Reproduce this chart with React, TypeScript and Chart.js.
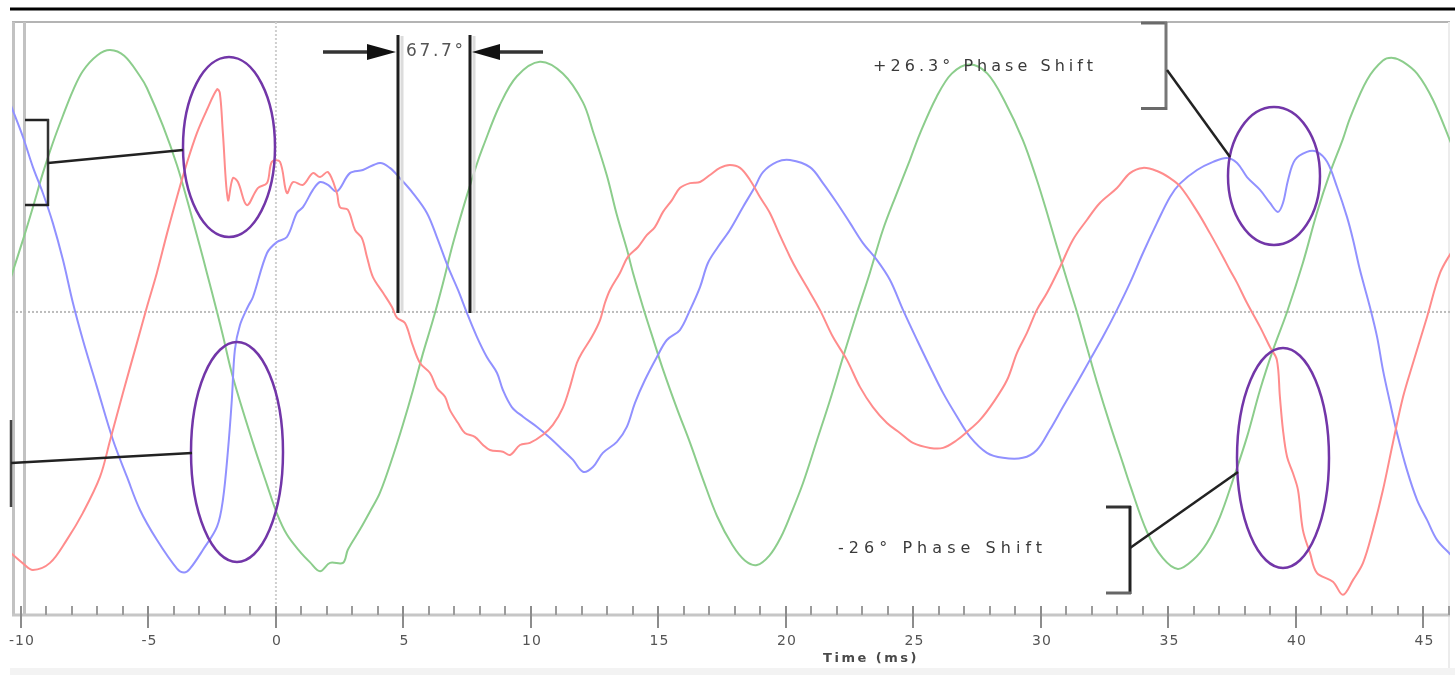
import React, { useEffect, useRef } from 'react';
import { Chart, registerables } from 'chart.js';

Chart.register(...registerables);

// ---- Series data (time in ms, value in per-unit of peak) ----
const greenTimes = [-10.4, -9.92, -9.53, -9.14, -8.75, -8.35, -7.96, -7.57, -7.0, -6.5, -5.95, -5.33, -5.06, -4.43, -3.88, -3.49, -2.98, -2.71, -2.31, -2.08, -1.69, -0.9, -0.35, 0.04, 0.43, 0.94, 1.33, 1.73, 2.12, 2.63, 2.82, 3.3, 3.7, 4.08, 4.59, 4.98, 5.37, 5.76, 6.16, 6.55, 6.94, 7.49, 7.88, 8.12, 8.78, 9.45, 10.35, 11.25, 12.04, 12.43, 12.98, 13.37, 13.76, 14.0, 14.39, 14.78, 15.18, 15.73, 16.24, 16.75, 17.3, 17.9, 18.4, 18.86, 19.35, 19.8, 20.2, 20.67, 21.22, 21.73, 22.24, 22.78, 23.29, 23.8, 24.35, 24.86, 25.25, 25.9, 26.5, 27.2, 27.9, 28.6, 29.29, 29.84, 30.24, 30.63, 31.02, 31.41, 31.8, 32.2, 32.71, 33.22, 33.49, 34.16, 34.78, 35.37, 35.96, 36.51, 37.02, 37.53, 38.08, 38.59, 39.1, 39.65, 40.27, 40.82, 41.33, 41.84, 42.12, 42.78, 43.41, 43.8, 44.2, 44.75, 45.37, 46.1];
const greenValues = [0.13, 0.275, 0.4, 0.53, 0.645, 0.75, 0.845, 0.92, 0.98, 1.0, 0.978, 0.9, 0.855, 0.71, 0.56, 0.43, 0.25, 0.15, 0.0, -0.09, -0.248, -0.5, -0.66, -0.77, -0.85, -0.915, -0.955, -0.99, -0.958, -0.958, -0.908, -0.83, -0.76, -0.69, -0.55, -0.43, -0.3, -0.16, -0.03, 0.11, 0.26, 0.445, 0.565, 0.63, 0.79, 0.9, 0.955, 0.91, 0.8, 0.69, 0.52, 0.37, 0.24, 0.15, 0.02, -0.1, -0.22, -0.37, -0.5, -0.64, -0.78, -0.89, -0.95, -0.966, -0.93, -0.86, -0.77, -0.653, -0.489, -0.336, -0.172, -0.004, 0.149, 0.313, 0.454, 0.58, 0.68, 0.82, 0.91, 0.945, 0.91, 0.8, 0.656, 0.504, 0.378, 0.248, 0.122, 0.0, -0.134, -0.27, -0.43, -0.58, -0.66, -0.84, -0.94, -0.981, -0.947, -0.882, -0.782, -0.641, -0.477, -0.298, -0.145, 0.0, 0.187, 0.378, 0.53, 0.66, 0.74, 0.885, 0.96, 0.97, 0.955, 0.91, 0.81, 0.64];

const redTimes = [-10.4, -9.92, -9.53, -8.86, -8.2, -7.57, -6.9, -6.5, -6.0, -5.45, -5.06, -4.67, -4.27, -3.88, -3.49, -3.1, -2.71, -2.31, -2.2, -2.08, -1.88, -1.69, -1.49, -1.14, -0.71, -0.35, -0.16, 0.16, 0.43, 0.67, 1.06, 1.45, 1.73, 2.04, 2.39, 2.51, 2.82, 3.1, 3.37, 3.57, 3.8, 4.2, 4.55, 4.75, 5.06, 5.33, 5.65, 6.04, 6.31, 6.63, 6.82, 7.14, 7.41, 7.8, 8.12, 8.39, 8.9, 9.18, 9.57, 9.96, 10.47, 10.86, 11.25, 11.53, 11.8, 12.0, 12.39, 12.71, 12.9, 13.1, 13.49, 13.8, 14.2, 14.55, 14.86, 15.18, 15.53, 15.84, 16.24, 16.63, 17.02, 17.41, 17.8, 18.2, 18.59, 18.98, 19.37, 19.76, 20.16, 20.43, 20.82, 21.33, 21.84, 22.39, 22.9, 23.41, 23.96, 24.47, 24.98, 25.65, 26.16, 26.71, 27.1, 27.61, 28.12, 28.67, 29.06, 29.45, 29.84, 30.24, 30.75, 31.25, 31.8, 32.31, 32.98, 33.49, 34.0, 34.55, 35.06, 35.45, 36.12, 36.63, 37.14, 37.41, 37.69, 38.08, 38.59, 38.98, 39.25, 39.37, 39.49, 39.65, 39.88, 40.08, 40.27, 40.55, 40.82, 41.45, 41.84, 42.24, 42.63, 43.02, 43.41, 43.8, 44.2, 44.59, 45.14, 45.65, 46.1];
const redValues = [-0.92, -0.96, -0.985, -0.958, -0.87, -0.767, -0.63, -0.489, -0.309, -0.118, 0.019, 0.149, 0.3, 0.439, 0.569, 0.683, 0.771, 0.85, 0.836, 0.683, 0.427, 0.511, 0.496, 0.408, 0.473, 0.492, 0.573, 0.573, 0.454, 0.496, 0.485, 0.53, 0.515, 0.534, 0.454, 0.4, 0.39, 0.313, 0.282, 0.21, 0.134, 0.073, 0.019, -0.023, -0.042, -0.118, -0.195, -0.233, -0.29, -0.324, -0.374, -0.424, -0.462, -0.477, -0.508, -0.527, -0.534, -0.546, -0.508, -0.5, -0.469, -0.431, -0.366, -0.286, -0.195, -0.156, -0.095, -0.031, 0.034, 0.084, 0.149, 0.21, 0.248, 0.294, 0.324, 0.382, 0.427, 0.473, 0.492, 0.496, 0.523, 0.55, 0.561, 0.55, 0.504, 0.439, 0.378, 0.293, 0.21, 0.16, 0.095, 0.008, -0.095, -0.183, -0.286, -0.363, -0.424, -0.462, -0.5, -0.519, -0.519, -0.489, -0.458, -0.412, -0.347, -0.26, -0.156, -0.08, 0.008, 0.073, 0.172, 0.275, 0.351, 0.416, 0.473, 0.53, 0.55, 0.538, 0.511, 0.48, 0.385, 0.3, 0.21, 0.16, 0.111, 0.034, -0.057, -0.134, -0.183, -0.324, -0.45, -0.553, -0.615, -0.68, -0.832, -0.92, -0.996, -1.03, -1.08, -1.023, -0.958, -0.832, -0.68, -0.5, -0.324, -0.195, -0.019, 0.149, 0.23];

const blueTimes = [-10.4, -9.92, -9.53, -9.14, -8.75, -8.35, -7.96, -7.57, -7.02, -6.39, -5.84, -5.33, -4.67, -3.88, -3.6, -3.37, -2.86, -2.31, -2.08, -1.88, -1.73, -1.61, -1.41, -1.1, -0.9, -0.35, 0.04, 0.43, 0.82, 1.06, 1.45, 1.73, 2.04, 2.39, 2.9, 3.41, 4.08, 4.47, 4.86, 5.37, 5.92, 6.31, 6.75, 7.14, 7.49, 7.88, 8.27, 8.67, 8.9, 9.25, 9.69, 10.24, 10.75, 11.25, 11.65, 12.04, 12.43, 12.82, 13.37, 13.76, 14.08, 14.47, 14.94, 15.33, 15.84, 16.24, 16.63, 16.94, 17.33, 17.8, 18.31, 18.78, 19.1, 19.65, 20.16, 20.94, 21.45, 22.0, 22.51, 23.02, 23.57, 24.08, 24.59, 25.14, 25.65, 26.16, 26.71, 27.22, 27.88, 28.51, 29.29, 29.84, 30.35, 30.86, 31.41, 31.92, 32.43, 32.98, 33.49, 34.0, 34.55, 35.06, 35.45, 36.12, 36.75, 37.29, 37.69, 38.08, 38.59, 38.98, 39.29, 39.49, 39.69, 39.96, 40.43, 40.82, 41.22, 41.61, 42.0, 42.24, 42.51, 42.9, 43.18, 43.41, 43.69, 43.96, 44.35, 44.75, 45.14, 45.53, 46.1];
const blueValues = [0.79, 0.668, 0.553, 0.454, 0.34, 0.198, 0.034, -0.107, -0.286, -0.489, -0.63, -0.756, -0.87, -0.98, -0.995, -0.98, -0.908, -0.82, -0.718, -0.527, -0.336, -0.145, -0.05, 0.02, 0.057, 0.225, 0.267, 0.286, 0.378, 0.4, 0.466, 0.496, 0.485, 0.46, 0.53, 0.542, 0.569, 0.55, 0.511, 0.454, 0.378, 0.286, 0.172, 0.084, -0.004, -0.095, -0.172, -0.233, -0.298, -0.363, -0.4, -0.439, -0.481, -0.527, -0.565, -0.61, -0.592, -0.538, -0.496, -0.439, -0.347, -0.26, -0.172, -0.107, -0.069, 0.008, 0.095, 0.187, 0.248, 0.313, 0.4, 0.477, 0.534, 0.573, 0.58, 0.553, 0.492, 0.416, 0.34, 0.263, 0.198, 0.122, 0.008, -0.107, -0.21, -0.309, -0.4, -0.477, -0.538, -0.557, -0.557, -0.527, -0.45, -0.363, -0.271, -0.183, -0.095, 0.008, 0.111, 0.225, 0.34, 0.439, 0.49, 0.542, 0.573, 0.588, 0.569, 0.515, 0.466, 0.416, 0.382, 0.416, 0.504, 0.58, 0.611, 0.611, 0.573, 0.477, 0.363, 0.275, 0.16, 0.019, -0.095, -0.221, -0.347, -0.462, -0.603, -0.718, -0.794, -0.87, -0.93];

// ---- Axis ticks and texts ----
const majorTicks = [-10, -5, 0, 5, 10, 15, 20, 25, 30, 35, 40, 45];
const minorTicks = [-9, -8, -7, -6, -4, -3, -2, -1, 1, 2, 3, 4, 6, 7, 8, 9, 11, 12, 13, 14, 16, 17, 18, 19, 21, 22, 23, 24, 26, 27, 28, 29, 31, 32, 33, 34, 36, 37, 38, 39, 41, 42, 43, 44, 46];
const xAxisTitle = 'Time (ms)';
const angleLabel = '67.7°';
const posShiftLabel = '+26.3° Phase Shift';
const negShiftLabel = '-26° Phase Shift';

const toPoints = (ts: number[], vs: number[]) => ts.map((t, i) => ({ x: t, y: vs[i] }));

const FONT = '"DejaVu Sans", Verdana, sans-serif';

function seg(ctx: CanvasRenderingContext2D, x1: number, y1: number, x2: number, y2: number, color: string, w: number) {
  ctx.beginPath();
  ctx.strokeStyle = color;
  ctx.lineWidth = w;
  ctx.moveTo(x1, y1);
  ctx.lineTo(x2, y2);
  ctx.stroke();
}

// draw text spread to a target width using letter spacing
function spreadText(ctx: CanvasRenderingContext2D, text: string, x: number, y: number, width: number) {
  (ctx as any).letterSpacing = '0px';
  const w = ctx.measureText(text).width;
  const n = Array.from(text).length;
  const s = Math.max(0, (width - w) / Math.max(1, n - 1));
  (ctx as any).letterSpacing = `${s.toFixed(2)}px`;
  ctx.fillText(text, x, y);
  (ctx as any).letterSpacing = '0px';
}

const decorPlugin = {
  id: 'decor',
  beforeDraw(chart: any) {
    const ctx: CanvasRenderingContext2D = chart.ctx;
    const a = chart.chartArea;
    const xs = chart.scales.x;
    const ys = chart.scales.y;
    const W = chart.width;
    ctx.save();
    ctx.fillStyle = '#ffffff';
    ctx.fillRect(0, 0, W, chart.height);
    ctx.fillStyle = '#000000';
    ctx.fillRect(10, 7.5, W - 10, 3);
    ctx.fillStyle = '#f3f3f3';
    ctx.fillRect(10, 668, W - 10, 7);
    seg(ctx, a.left, a.top, a.right, a.top, '#b4b4b4', 2);
    seg(ctx, a.left + 1.5, a.top, a.left + 1.5, a.bottom, '#c2c2c2', 3);
    seg(ctx, a.left + 12.5, a.top, a.left + 12.5, a.bottom, '#c2c2c2', 3);
    seg(ctx, a.right - 1, a.top, a.right - 1, 668, '#ececec', 2);
    ctx.setLineDash([2, 2]);
    const y0 = ys.getPixelForValue(0);
    const x0 = xs.getPixelForValue(0);
    seg(ctx, a.left, y0, a.right, y0, '#bcbcbc', 2);
    seg(ctx, x0, a.top, x0, a.bottom, '#cfcfcf', 2);
    ctx.setLineDash([]);
    seg(ctx, a.left, a.bottom, a.right, a.bottom, '#c6c6c6', 3);
    minorTicks.forEach((t) => {
      const px = Math.round(xs.getPixelForValue(t));
      seg(ctx, px, a.bottom - 9, px, a.bottom, '#9c9c9c', 2);
    });
    majorTicks.forEach((t) => {
      const px = Math.round(xs.getPixelForValue(t));
      seg(ctx, px, a.bottom - 9, px, a.bottom + 13, '#8c8c8c', 2);
    });
    ctx.fillStyle = '#555555';
    ctx.font = `14px ${FONT}`;
    ctx.textAlign = 'center';
    ctx.textBaseline = 'middle';
    (ctx as any).letterSpacing = '1px';
    majorTicks.forEach((t) => {
      ctx.fillText(String(t), xs.getPixelForValue(t) + 1, a.bottom + 26);
    });
    ctx.fillStyle = '#4a4a4a';
    ctx.font = `bold 13px ${FONT}`;
    (ctx as any).letterSpacing = '2.5px';
    ctx.fillText(xAxisTitle, 871, 659);
    ctx.restore();
  },
  afterDatasetsDraw(chart: any) {
    const ctx: CanvasRenderingContext2D = chart.ctx;
    ctx.save();
    ctx.lineCap = 'butt';
    const purple = '#7236a8';
    const ell = (cx: number, cy: number, rx: number, ry: number) => {
      ctx.beginPath();
      ctx.strokeStyle = purple;
      ctx.lineWidth = 2.5;
      ctx.ellipse(cx, cy, rx, ry, 0, 0, Math.PI * 2);
      ctx.stroke();
    };
    ell(229, 147, 46, 90);
    ell(237, 452, 46, 110);
    ell(1274, 176, 46, 69);
    ell(1283, 458, 46, 110);

    // bracket A (upper left)
    seg(ctx, 25, 120, 49, 120, '#222', 2.5);
    seg(ctx, 48, 119, 48, 206, '#333', 2.5);
    seg(ctx, 25, 205, 49, 205, '#222', 2.5);
    seg(ctx, 48, 163, 183, 150, '#222', 2.5);
    // bracket B (lower left)
    seg(ctx, 11, 420, 11, 507, '#444', 2.5);
    seg(ctx, 11, 463, 192, 453, '#222', 2.5);
    // bracket C (upper right)
    seg(ctx, 1141, 23, 1167, 23, '#6a6a6a', 3);
    seg(ctx, 1166, 22, 1166, 110, '#777', 3);
    seg(ctx, 1141, 108.5, 1167, 108.5, '#6a6a6a', 3);
    seg(ctx, 1167, 70, 1230, 157, '#222', 2.5);
    // bracket D (lower right)
    seg(ctx, 1106, 507, 1131, 507, '#333', 3);
    seg(ctx, 1130, 506, 1130, 594, '#222', 3);
    seg(ctx, 1106, 593, 1131, 593, '#666', 3);
    seg(ctx, 1130, 548, 1238, 472, '#222', 2.5);

    // 67.7° dimension
    seg(ctx, 402, 36, 402, 313, '#dcdcdc', 3);
    seg(ctx, 474, 36, 474, 313, '#dcdcdc', 3);
    seg(ctx, 398, 35, 398, 313, '#1e1e1e', 3);
    seg(ctx, 470, 35, 470, 313, '#1e1e1e', 3);
    seg(ctx, 323, 52, 372, 52, '#333', 3.5);
    seg(ctx, 496, 52, 543, 52, '#333', 3.5);
    ctx.fillStyle = '#111';
    ctx.beginPath();
    ctx.moveTo(396, 52);
    ctx.lineTo(367, 44);
    ctx.lineTo(367, 60);
    ctx.closePath();
    ctx.fill();
    ctx.beginPath();
    ctx.moveTo(472, 52);
    ctx.lineTo(500, 44);
    ctx.lineTo(500, 60);
    ctx.closePath();
    ctx.fill();

    ctx.textBaseline = 'middle';
    ctx.textAlign = 'left';
    ctx.fillStyle = '#555';
    ctx.font = `17px ${FONT}`;
    spreadText(ctx, angleLabel, 406, 52, 57);

    ctx.fillStyle = '#3a3a3a';
    ctx.font = `16px ${FONT}`;
    spreadText(ctx, posShiftLabel, 873, 67, 220);
    spreadText(ctx, negShiftLabel, 838, 549, 204);
    ctx.restore();
  },
};

export default function App() {
  const ref = useRef<HTMLCanvasElement | null>(null);
  useEffect(() => {
    if (!ref.current) return;
    const common = {
      borderWidth: 2,
      pointRadius: 0,
      tension: 0.35,
      fill: false,
    };
    const chart = new Chart(ref.current, {
      type: 'line',
      data: {
        datasets: [
          { label: 'Phase A', data: toPoints(redTimes, redValues), borderColor: 'rgb(255,140,140)', ...common },
          { label: 'Phase B', data: toPoints(blueTimes, blueValues), borderColor: 'rgb(145,145,255)', ...common },
          { label: 'Phase C', data: toPoints(greenTimes, greenValues), borderColor: 'rgb(140,205,140)', ...common },
        ],
      },
      options: {
        animation: false,
        responsive: false,
        maintainAspectRatio: false,
        layout: { padding: { left: 12, right: 5, top: 22, bottom: 69 }, autoPadding: false } as any,
        plugins: { legend: { display: false }, tooltip: { enabled: false }, title: { display: false } },
        scales: {
          x: { type: 'linear', min: -10.35, max: 46.04, display: false },
          y: { type: 'linear', min: -1.157, max: 1.107, display: false },
        },
        events: [],
      },
      plugins: [decorPlugin],
    });
    return () => chart.destroy();
  }, []);
  return (
    <div style={{ position: 'fixed', left: 0, top: 0, width: 1455, height: 684, background: '#fff' }}>
      <canvas ref={ref} width={1455} height={684} style={{ display: 'block', width: 1455, height: 684 }} />
    </div>
  );
}
